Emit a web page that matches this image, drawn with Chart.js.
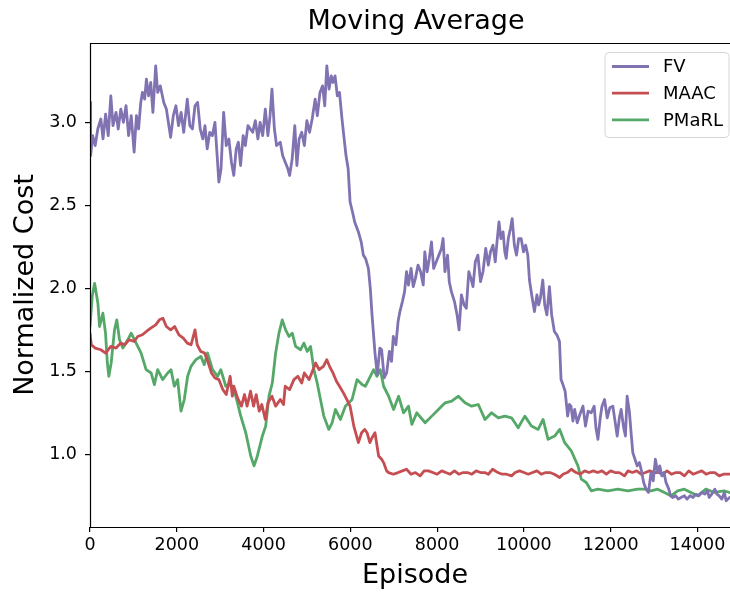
<!DOCTYPE html>
<html>
<head>
<meta charset="utf-8">
<script src="https://cdn.jsdelivr.net/npm/chart.js@4.4.0/dist/chart.umd.min.js"></script>
<style>
  html, body { margin: 0; padding: 0; background: #fff; }
</style>
</head>
<body>
<canvas id="chart" width="730" height="592"></canvas>
<script>
// values
const xTicks = [0, 2000, 4000, 6000, 8000, 10000, 12000, 14000];
const yTicks = [1.0, 1.5, 2.0, 2.5, 3.0];
const seriesNames = ["FV", "MAAC", "PMaRL"];

const fvEpisodes = [0, 15, 60, 120, 180, 250, 300, 360, 420, 480, 530, 600, 650, 710, 770, 830, 890, 950, 1017, 1070,
  1120, 1170, 1208, 1260, 1300, 1350, 1400, 1450, 1514, 1560, 1620, 1700, 1760, 1858, 1920, 1980, 2040, 2100, 2160, 2242,
  2300, 2360, 2420, 2480, 2540, 2600, 2650, 2701, 2760, 2820, 2880, 2930, 2970, 3020, 3080, 3140, 3200, 3260, 3314, 3370,
  3420, 3470, 3530, 3580, 3640, 3696, 3750, 3811, 3870, 3920, 3980, 4041, 4100, 4150, 4194, 4250, 4300, 4385, 4440, 4500,
  4560, 4600, 4660, 4720, 4768, 4820, 4880, 4940, 4998, 5060, 5120, 5189, 5240, 5300, 5360, 5410, 5458, 5510, 5560, 5600,
  5648, 5700, 5750, 5800, 5841, 5900, 5950, 5994, 6050, 6100, 6186, 6250, 6300, 6350, 6416, 6460, 6500, 6568, 6620, 6680,
  6721, 6780, 6836, 6900, 6950, 6990, 7050, 7100, 7142, 7200, 7250, 7295, 7340, 7400, 7449, 7500, 7560, 7620, 7680, 7716,
  7770, 7820, 7870, 7920, 7980, 8040, 8100, 8138, 8180, 8240, 8280, 8329, 8400, 8460, 8506, 8560, 8620, 8673, 8730, 8780,
  8827, 8880, 8940, 9000, 9057, 9120, 9180, 9230, 9287, 9340, 9380, 9425, 9470, 9520, 9560, 9592, 9640, 9690, 9730, 9780,
  9830, 9880, 9937, 9990, 10040, 10090, 10128, 10180, 10243, 10300, 10340, 10380, 10435, 10480, 10530, 10588, 10640, 10702, 10760, 10820,
  10856, 10900, 10950, 11009, 11050, 11085, 11130, 11170, 11230, 11290, 11361, 11420, 11480, 11552, 11620, 11660, 11706, 11760, 11800, 11859,
  11920, 11980, 12050, 12100, 12150, 12200, 12241, 12300, 12340, 12379, 12430, 12470, 12510, 12560, 12610, 12663, 12710, 12760, 12816, 12870,
  12930, 12980, 13030, 13084, 13130, 13180, 13230, 13275, 13340, 13380, 13428, 13500, 13560, 13620, 13700, 13760, 13830, 13900, 13964, 14030,
  14100, 14170, 14230, 14270, 14330, 14400, 14450, 14500, 14560, 14620, 14660, 14740];
const fvCost = [3.12, 2.80, 2.92, 2.86, 2.96, 3.02, 2.90, 3.05, 2.92, 3.16, 2.98, 3.06, 2.96, 3.08, 3.00, 3.10, 2.92, 3.04, 2.82, 3.04,
  2.96, 3.12, 3.18, 3.14, 3.26, 3.16, 3.24, 3.06, 3.34, 3.18, 3.22, 3.12, 3.08, 2.91, 3.04, 3.10, 2.98, 3.06, 2.94, 3.14,
  2.98, 2.96, 3.10, 3.12, 2.96, 2.90, 2.98, 2.84, 2.94, 2.92, 3.00, 2.80, 2.64, 2.72, 3.06, 2.86, 2.90, 2.76, 2.68, 2.84,
  2.88, 2.74, 2.92, 2.86, 2.98, 2.96, 2.94, 3.01, 2.90, 3.00, 2.92, 3.08, 2.92, 3.04, 3.20, 2.96, 2.86, 2.88, 2.80, 2.76,
  2.72, 2.68, 2.78, 2.98, 2.74, 2.90, 2.94, 2.86, 3.01, 2.94, 3.02, 3.14, 3.04, 3.18, 3.22, 3.10, 3.34, 3.20, 3.28, 3.24,
  3.28, 3.16, 3.18, 3.04, 2.94, 2.80, 2.72, 2.52, 2.46, 2.40, 2.34, 2.28, 2.20, 2.18, 2.12, 2.00, 1.84, 1.61, 1.48, 1.64,
  1.63, 1.46, 1.49, 1.62, 1.56, 1.71, 1.66, 1.80, 1.86, 1.92, 1.98, 2.10, 2.02, 2.12, 2.01, 2.06, 2.14, 2.10, 2.02, 2.22,
  2.10, 2.18, 2.28, 2.12, 2.16, 2.20, 2.24, 2.30, 2.10, 2.20, 2.04, 1.98, 1.92, 1.84, 1.75, 1.96, 1.90, 1.88, 2.10, 2.06,
  2.01, 2.16, 2.20, 2.04, 2.10, 2.24, 2.14, 2.22, 2.26, 2.16, 2.28, 2.40, 2.30, 2.34, 2.22, 2.18, 2.30, 2.36, 2.42, 2.26,
  2.20, 2.30, 2.30, 2.22, 2.26, 2.20, 2.05, 1.96, 1.86, 1.96, 1.90, 1.94, 2.05, 1.90, 1.84, 2.01, 1.84, 1.74, 1.72, 1.68,
  1.45, 1.42, 1.38, 1.23, 1.30, 1.29, 1.20, 1.27, 1.19, 1.24, 1.29, 1.17, 1.26, 1.25, 1.29, 1.16, 1.09, 1.22, 1.29, 1.33,
  1.22, 1.28, 1.29, 1.20, 1.11, 1.22, 1.27, 1.16, 1.11, 1.35, 1.26, 1.13, 1.01, 0.97, 0.93, 0.95, 0.90, 0.83, 0.79, 0.77,
  0.89, 0.84, 0.97, 0.89, 0.93, 0.87, 0.89, 0.83, 0.79, 0.75, 0.74, 0.75, 0.73, 0.74, 0.75, 0.73, 0.75, 0.74, 0.76, 0.75,
  0.77, 0.76, 0.78, 0.74, 0.76, 0.79, 0.76, 0.75, 0.73, 0.77, 0.72, 0.74];

const maacEpisodes = [0, 30, 120, 250, 360, 480, 600, 710, 800, 900, 1017, 1100, 1208, 1300, 1400, 1514, 1600, 1680, 1760, 1858,
  1950, 2050, 2150, 2242, 2330, 2420, 2470, 2550, 2640, 2701, 2800, 2880, 2970, 3060, 3140, 3230, 3280, 3314, 3400, 3490,
  3560, 3620, 3700, 3770, 3830, 3900, 3960, 4040, 4100, 4194, 4280, 4385, 4460, 4500, 4600, 4700, 4790, 4880, 4940, 5050,
  5110, 5200, 5280, 5380, 5458, 5520, 5600, 5680, 5750, 5840, 5920, 5994, 6080, 6186, 6260, 6330, 6385, 6450, 6500, 6568,
  6652, 6721, 6767, 6836, 6882, 6990, 7100, 7200, 7295, 7400, 7500, 7609, 7700, 7800, 7900, 8000, 8106, 8200, 8300, 8400,
  8500, 8600, 8700, 8800, 8900, 9000, 9100, 9179, 9280, 9400, 9500, 9600, 9715, 9800, 9900, 10000, 10100, 10200, 10300, 10400,
  10500, 10600, 10700, 10825, 10900, 11000, 11093, 11200, 11300, 11400, 11500, 11600, 11700, 11800, 11900, 12000, 12100, 12200, 12318, 12400,
  12500, 12600, 12700, 12800, 12900, 13000, 13100, 13200, 13300, 13400, 13500, 13600, 13700, 13800, 13900, 14000, 14100, 14200, 14300, 14400,
  14500, 14600, 14740];
const maacCost = [1.73, 1.66, 1.64, 1.63, 1.61, 1.65, 1.64, 1.67, 1.66, 1.69, 1.68, 1.71, 1.72, 1.74, 1.76, 1.78, 1.81, 1.82, 1.77, 1.75,
  1.77, 1.72, 1.70, 1.67, 1.66, 1.75, 1.66, 1.62, 1.61, 1.57, 1.49, 1.46, 1.45, 1.39, 1.36, 1.47, 1.35, 1.41, 1.34, 1.29,
  1.36, 1.29, 1.38, 1.29, 1.36, 1.26, 1.30, 1.21, 1.31, 1.35, 1.29, 1.33, 1.30, 1.41, 1.39, 1.45, 1.47, 1.43, 1.49, 1.45,
  1.49, 1.55, 1.51, 1.53, 1.57, 1.53, 1.49, 1.44, 1.41, 1.37, 1.33, 1.29, 1.17, 1.07, 1.13, 1.15, 1.13, 1.07, 1.10, 1.13,
  0.99, 0.97, 0.95, 0.90, 0.89, 0.88, 0.89, 0.90, 0.91, 0.88, 0.89, 0.87, 0.90, 0.90, 0.89, 0.88, 0.90, 0.89, 0.88, 0.90,
  0.88, 0.89, 0.89, 0.88, 0.90, 0.89, 0.89, 0.88, 0.91, 0.89, 0.88, 0.88, 0.87, 0.89, 0.90, 0.89, 0.88, 0.89, 0.90, 0.88,
  0.89, 0.89, 0.88, 0.86, 0.88, 0.89, 0.91, 0.89, 0.88, 0.90, 0.89, 0.90, 0.89, 0.90, 0.88, 0.90, 0.89, 0.89, 0.87, 0.90,
  0.89, 0.90, 0.88, 0.89, 0.90, 0.89, 0.89, 0.88, 0.90, 0.88, 0.89, 0.89, 0.87, 0.90, 0.88, 0.89, 0.90, 0.88, 0.89, 0.89,
  0.87, 0.88, 0.88];

const pmarlEpisodes = [0, 50, 106, 182, 220, 297, 358, 400, 434, 488, 565, 618, 680, 756, 871, 948, 1063, 1178, 1293, 1408,
  1484, 1560, 1675, 1790, 1867, 1943, 2020, 2097, 2173, 2250, 2327, 2442, 2556, 2633, 2709, 2824, 2939, 3015, 3130, 3245,
  3360, 3475, 3590, 3705, 3781, 3857, 3972, 4049, 4125, 4202, 4278, 4355, 4431, 4508, 4585, 4661, 4738, 4853, 4929, 5006,
  5083, 5159, 5236, 5312, 5389, 5504, 5580, 5656, 5771, 5886, 6040, 6155, 6270, 6346, 6461, 6537, 6614, 6691, 6767, 6882,
  6997, 7112, 7226, 7341, 7418, 7532, 7724, 7877, 8030, 8184, 8337, 8490, 8643, 8796, 8949, 9103, 9256, 9409, 9562, 9715,
  9868, 10021, 10174, 10328, 10442, 10557, 10710, 10825, 10940, 11093, 11246, 11323, 11438, 11552, 11706, 11935, 12165, 12395, 12624, 12777,
  12930, 13084, 13237, 13390, 13543, 13697, 13850, 14003, 14194, 14386, 14615, 14740];
const pmarlCost = [1.77, 1.95, 2.03, 1.91, 1.77, 1.85, 1.73, 1.55, 1.47, 1.55, 1.75, 1.81, 1.69, 1.64, 1.69, 1.73, 1.67, 1.61, 1.51, 1.49,
  1.42, 1.51, 1.45, 1.49, 1.51, 1.41, 1.45, 1.26, 1.33, 1.47, 1.53, 1.57, 1.59, 1.54, 1.61, 1.51, 1.47, 1.51, 1.41, 1.42,
  1.35, 1.23, 1.13, 0.99, 0.93, 0.99, 1.11, 1.17, 1.35, 1.43, 1.61, 1.73, 1.81, 1.75, 1.71, 1.73, 1.65, 1.63, 1.67, 1.62,
  1.65, 1.51, 1.43, 1.33, 1.23, 1.15, 1.19, 1.27, 1.21, 1.29, 1.33, 1.45, 1.42, 1.41, 1.47, 1.51, 1.47, 1.51, 1.41, 1.35,
  1.27, 1.35, 1.25, 1.29, 1.18, 1.25, 1.19, 1.23, 1.27, 1.31, 1.32, 1.35, 1.31, 1.29, 1.30, 1.21, 1.25, 1.22, 1.23, 1.22,
  1.16, 1.23, 1.17, 1.15, 1.21, 1.09, 1.11, 1.15, 1.07, 1.02, 0.93, 0.85, 0.83, 0.78, 0.79, 0.78, 0.79, 0.78, 0.79, 0.79,
  0.78, 0.79, 0.77, 0.75, 0.78, 0.79, 0.77, 0.75, 0.79, 0.77, 0.78, 0.77];

const colors = ["#8172B2", "#C44E52", "#55A868"];
const FONT = '"DejaVu Sans", sans-serif';

function toPoints(xs, ys) {
  return xs.map((x, i) => ({ x: x, y: ys[i] }));
}

// titles and legend drawn on top of the chart area
const decorations = {
  id: "decorations",
  afterDatasetsDraw(chart) {
    const ctx = chart.ctx;
    const a = chart.chartArea;
    ctx.save();
    // spines
    ctx.strokeStyle = "#000";
    ctx.lineWidth = 1.2;
    ctx.beginPath();
    ctx.moveTo(a.left + 0.5, a.bottom);
    ctx.lineTo(a.left + 0.5, a.top + 0.5);
    ctx.lineTo(a.right, a.top + 0.5);
    ctx.moveTo(a.left, a.bottom + 0.5);
    ctx.lineTo(a.right, a.bottom + 0.5);
    ctx.stroke();

    // titles
    ctx.fillStyle = "#000";
    ctx.textAlign = "center";
    ctx.textBaseline = "middle";
    ctx.font = "27px " + FONT;
    ctx.fillText("Moving Average", 416, 22);
    ctx.fillText("Episode", 415, 576);
    ctx.save();
    ctx.translate(26, 285);
    ctx.rotate(-Math.PI / 2);
    ctx.fillText("Normalized Cost", 0, 0);
    ctx.restore();

    // legend
    const bx = 605, by = 52.5, bw = 124, bh = 85, r = 4;
    ctx.beginPath();
    ctx.moveTo(bx + r, by);
    ctx.lineTo(bx + bw - r, by);
    ctx.quadraticCurveTo(bx + bw, by, bx + bw, by + r);
    ctx.lineTo(bx + bw, by + bh - r);
    ctx.quadraticCurveTo(bx + bw, by + bh, bx + bw - r, by + bh);
    ctx.lineTo(bx + r, by + bh);
    ctx.quadraticCurveTo(bx, by + bh, bx, by + bh - r);
    ctx.lineTo(bx, by + r);
    ctx.quadraticCurveTo(bx, by, bx + r, by);
    ctx.closePath();
    ctx.fillStyle = "rgba(255,255,255,0.8)";
    ctx.fill();
    ctx.strokeStyle = "#d6d6d6";
    ctx.lineWidth = 1;
    ctx.stroke();

    ctx.font = "18px " + FONT;
    ctx.textAlign = "left";
    chart.data.datasets.forEach((ds, i) => {
      const y = 66.5 + i * 26.7;
      ctx.strokeStyle = ds.borderColor;
      ctx.lineWidth = 2.8;
      ctx.beginPath();
      ctx.moveTo(612, y);
      ctx.lineTo(649, y);
      ctx.stroke();
      ctx.fillStyle = "#000";
      ctx.fillText(ds.label, 663, y + 1);
    });
    ctx.restore();
  }
};

new Chart(document.getElementById("chart").getContext("2d"), {
  type: "line",
  data: {
    datasets: [
      { label: seriesNames[0], data: toPoints(fvEpisodes, fvCost), borderColor: colors[0] },
      { label: seriesNames[1], data: toPoints(maacEpisodes, maacCost), borderColor: colors[1] },
      { label: seriesNames[2], data: toPoints(pmarlEpisodes, pmarlCost), borderColor: colors[2] }
    ]
  },
  options: {
    responsive: false,
    animation: false,
    layout: { padding: { top: 43, left: 0, right: 0, bottom: 0 } },
    elements: {
      point: { radius: 0 },
      line: { borderWidth: 2.8, tension: 0, fill: false, borderJoinStyle: "round", borderCapStyle: "round" }
    },
    plugins: {
      legend: { display: false },
      title: { display: false },
      tooltip: { enabled: false }
    },
    scales: {
      x: {
        type: "linear",
        min: 0,
        max: 14750,
        afterBuildTicks: s => { s.ticks = xTicks.map(v => ({ value: v })); },
        afterFit: s => { s.height = 65; },
        ticks: {
          color: "#000",
          font: { family: FONT, size: 17.5 },
          padding: 3,
          maxRotation: 0,
          autoSkip: false,
          callback: v => String(v)
        },
        grid: { drawOnChartArea: false, drawTicks: true, tickLength: 5, color: "#000", lineWidth: 1.2 },
        border: { display: false }
      },
      y: {
        min: 0.562,
        max: 3.478,
        afterBuildTicks: s => { s.ticks = yTicks.map(v => ({ value: v })); },
        afterFit: s => { s.width = 90; },
        ticks: {
          color: "#000",
          font: { family: FONT, size: 17.5 },
          padding: 8,
          callback: v => v.toFixed(1)
        },
        grid: { drawOnChartArea: false, drawTicks: true, tickLength: 5, color: "#000", lineWidth: 1.2 },
        border: { display: false }
      }
    }
  },
  plugins: [decorations]
});
</script>
</body>
</html>
